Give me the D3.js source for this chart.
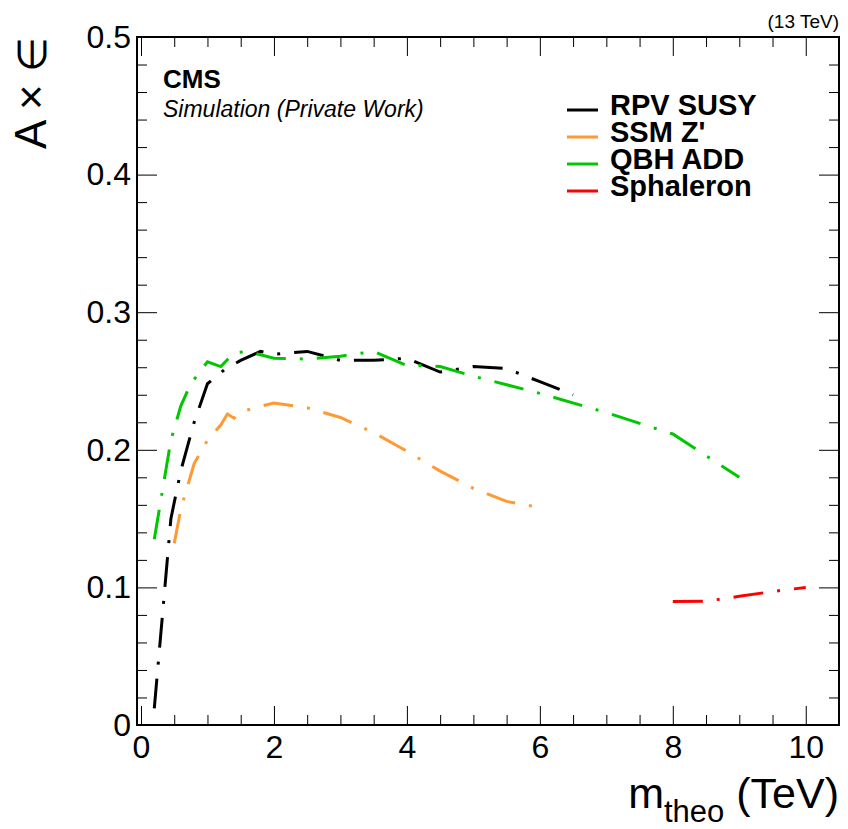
<!DOCTYPE html>
<html>
<head>
  <title>Acceptance x efficiency vs m_theo</title>
  <script src="https://d3js.org/d3.v7.min.js"></script>
  <style>
    body {
      margin: 0;
      background: #fff;
    }

    text {
      font-family: "Liberation Sans", Arial, Helvetica, sans-serif;
      fill: #000;
    }

    .frame {
      fill: none;
      stroke: #000;
      stroke-width: 2;
    }

    .tick line {
      stroke: #000;
      stroke-width: 1;
    }

    .curve {
      fill: none;
      stroke-width: 3;
      stroke-dasharray: 30, 14, 3, 14;
    }
  </style>
</head>
<body>
  <div class="chart"></div>

  <script>
    // Curves: [mass (TeV), A x eff]
    const rpvSusy = [[0.2, 0.012], [0.45, 0.15], [0.6, 0.185], [0.8, 0.22], [1.0, 0.248], [1.25, 0.258],
      [1.5, 0.265], [1.8, 0.2715], [2.0, 0.2695], [2.5, 0.2715], [3.0, 0.265], [3.5, 0.265], [4.0, 0.2665],
      [4.5, 0.2565], [5.0, 0.2605], [5.5, 0.259], [6.0, 0.2495], [6.5, 0.240]];
    const ssmZprime = [[0.5, 0.132], [0.6, 0.157], [0.8, 0.19], [1.0, 0.207], [1.2, 0.218], [1.3, 0.226],
      [1.4, 0.223], [1.5, 0.2275], [1.75, 0.231], [2.0, 0.234], [2.5, 0.2305], [3.0, 0.2235], [3.5, 0.2125],
      [4.0, 0.199], [4.5, 0.1845], [5.0, 0.172], [5.5, 0.1625], [6.0, 0.158]];
    const qbhAdd = [[0.2, 0.135], [0.45, 0.207], [0.6, 0.232], [0.75, 0.248], [1.0, 0.264], [1.2, 0.2605],
      [1.4, 0.2705], [1.6, 0.2715], [2.0, 0.2665], [2.5, 0.266], [3.0, 0.268], [3.5, 0.2715], [4.0, 0.2613],
      [4.25, 0.2613], [4.5, 0.2605], [5.0, 0.2535], [6.0, 0.241], [7.0, 0.227], [8.0, 0.2115], [9.0, 0.18]];
    const sphaleron = [[8.0, 0.0897], [8.5, 0.090], [9.0, 0.0935], [9.5, 0.097], [10.0, 0.100]];

    const seriesNames = ["RPV SUSY", "SSM Z'", "QBH ADD", "Sphaleron"];
    const seriesColors = ["#000000", "#ff9933", "#00c800", "#ff0000"];
    const seriesData = [rpvSusy, ssmZprime, qbhAdd, sphaleron];

    const xMajorTicks = [0, 2, 4, 6, 8, 10];
    const yMajorTicks = [0, 0.1, 0.2, 0.3, 0.4, 0.5];

    const width = 848, height = 829;
    const frame = { left: 137, right: 839, top: 37, bottom: 725 };

    const svg = d3.select(".chart")
      .append("svg")
      .attr("width", width)
      .attr("height", height);

    const x = d3.scaleLinear().domain([-0.06, 10.5]).range([frame.left, frame.right]);
    const y = d3.scaleLinear().domain([0, 0.5]).range([frame.bottom, frame.top]);

    // minor ticks: every 0.5 TeV on x, every 0.02 on y
    const xMinor = d3.range(0, 10.51, 0.5).filter(v => v % 2 !== 0);
    const yMinor = d3.range(0, 0.501, 0.02).map(v => +v.toFixed(2)).filter(v => Math.round(v * 100) % 10 !== 0);

    function tickAxis(axisFn, scale, values, size, transform) {
      const g = svg.append("g")
        .attr("transform", transform)
        .call(axisFn(scale).tickValues(values).tickSize(size).tickFormat(""));
      g.select(".domain").remove();
      return g;
    }

    // inward ticks on all four sides
    tickAxis(d3.axisTop, x, xMajorTicks, 19, `translate(0,${frame.bottom})`);
    tickAxis(d3.axisTop, x, xMinor, 10, `translate(0,${frame.bottom})`);
    tickAxis(d3.axisBottom, x, xMajorTicks, 19, `translate(0,${frame.top})`);
    tickAxis(d3.axisBottom, x, xMinor, 10, `translate(0,${frame.top})`);
    tickAxis(d3.axisRight, y, yMajorTicks, 20, `translate(${frame.left},0)`);
    tickAxis(d3.axisRight, y, yMinor, 10, `translate(${frame.left},0)`);
    tickAxis(d3.axisLeft, y, yMajorTicks, 20, `translate(${frame.right},0)`);
    tickAxis(d3.axisLeft, y, yMinor, 10, `translate(${frame.right},0)`);

    // tick labels
    const xLabels = svg.append("g")
      .attr("transform", `translate(0,${frame.bottom})`)
      .call(d3.axisBottom(x).tickValues(xMajorTicks).tickSize(0).tickPadding(10).tickFormat(d3.format("d")));
    xLabels.select(".domain").remove();
    xLabels.selectAll("text").style("font-size", "32px");

    const yLabels = svg.append("g")
      .attr("transform", `translate(${frame.left},0)`)
      .call(d3.axisLeft(y).tickValues(yMajorTicks).tickSize(0).tickPadding(6).tickFormat(d3.format("~g")));
    yLabels.select(".domain").remove();
    yLabels.selectAll("text").style("font-size", "32px");

    // curves, clipped to the frame
    svg.append("clipPath").attr("id", "clip")
      .append("rect")
      .attr("x", frame.left).attr("y", frame.top)
      .attr("width", frame.right - frame.left).attr("height", frame.bottom - frame.top);

    const line = d3.line()
      .x(d => x(d[0]))
      .y(d => y(d[1]));

    svg.append("g")
      .attr("clip-path", "url(#clip)")
      .selectAll("path")
      .data(seriesData)
      .join("path")
      .attr("class", "curve")
      .attr("stroke", (d, i) => seriesColors[i])
      .attr("d", line);

    // frame
    svg.append("rect")
      .attr("class", "frame")
      .attr("x", frame.left).attr("y", frame.top)
      .attr("width", frame.right - frame.left).attr("height", frame.bottom - frame.top);

    // axis titles
    const xTitle = svg.append("text")
      .attr("x", frame.right)
      .attr("y", 808)
      .attr("text-anchor", "end")
      .style("font-size", "43px");
    xTitle.append("tspan").text("m");
    xTitle.append("tspan").attr("dy", 14).style("font-size", "31px").text("theo");
    xTitle.append("tspan").attr("dy", -14).text("\u00a0(TeV)");

    const yTitle = svg.append("text")
      .attr("transform", `translate(46,${frame.top}) rotate(-90)`)
      .attr("text-anchor", "end")
      .style("font-size", "44px");
    yTitle.append("tspan").text("A \u00d7 ");
    yTitle.append("tspan").style("font-size", "40px").text("\u2208");

    // labels
    svg.append("text")
      .attr("x", frame.right).attr("y", 28)
      .attr("text-anchor", "end")
      .style("font-size", "19px")
      .text("(13 TeV)");

    svg.append("text")
      .attr("x", 163).attr("y", 88)
      .style("font-size", "26px")
      .style("font-weight", "bold")
      .text("CMS");

    svg.append("text")
      .attr("x", 163).attr("y", 117)
      .style("font-size", "23px")
      .style("font-style", "italic")
      .text("Simulation (Private Work)");

    // legend
    const legend = svg.append("g")
      .selectAll("g")
      .data(seriesNames)
      .join("g")
      .attr("transform", (d, i) => `translate(0,${115 + i * 27})`);

    legend.append("line")
      .attr("x1", 567).attr("x2", 598)
      .attr("y1", -5).attr("y2", -5)
      .attr("stroke", (d, i) => seriesColors[i])
      .attr("stroke-width", 3);

    legend.append("text")
      .attr("x", 610)
      .style("font-size", "29px")
      .style("font-weight", "bold")
      .text(d => d);
  </script>
</body>
</html>
